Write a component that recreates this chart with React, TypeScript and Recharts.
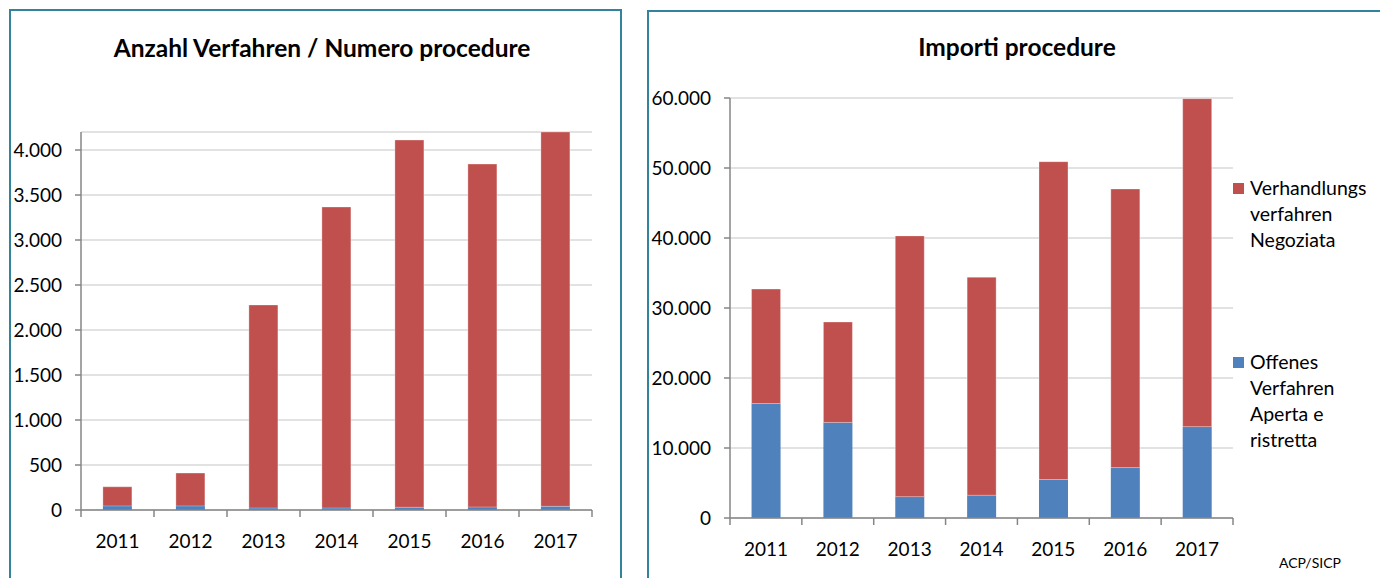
import { BarChart, Bar, XAxis, YAxis, CartesianGrid, Legend } from 'recharts';

const YEARS = ['2011', '2012', '2013', '2014', '2015', '2016', '2017'];

// Anzahl Verfahren / Numero procedure
const COUNT_OPEN = [45, 45, 22, 22, 30, 33, 41];
const COUNT_NEGOTIATED = [213, 365, 2256, 3345, 4081, 3811, 4159];
const COUNT_TICKS = [0, 500, 1000, 1500, 2000, 2500, 3000, 3500, 4000];

// Importi procedure
const AMOUNT_OPEN = [16350, 13650, 3050, 3250, 5500, 7200, 13050];
const AMOUNT_NEGOTIATED = [16350, 14350, 37250, 31150, 45400, 39800, 46850];
const AMOUNT_TICKS = [0, 10000, 20000, 30000, 40000, 50000, 60000];

const NAME_OPEN = ['Offenes', 'Verfahren', 'Aperta e', 'ristretta'];
const NAME_NEGOTIATED = ['Verhandlungs', 'verfahren', 'Negoziata'];

const RED = '#C0504D';
const BLUE = '#4F81BD';
const AXIS = '#868686';
const GRID = '#D9D9D9';
const FRAME = '#31849B';
const FONT = 'Lato, "Open Sans", sans-serif';

const countData = YEARS.map((year, i) => ({ year, open: COUNT_OPEN[i], negotiated: COUNT_NEGOTIATED[i] }));
const amountData = YEARS.map((year, i) => ({ year, open: AMOUNT_OPEN[i], negotiated: AMOUNT_NEGOTIATED[i] }));

const fmt = (v: number) => String(v).replace(/\B(?=(\d{3})+(?!\d))/g, '.');

// Excel-style category axis: tick marks sit between the categories
const makeXTick = (band: number) => (props: any) => {
  const { x, y, payload, index } = props;
  return (
    <g>
      <line x1={x - band / 2} x2={x - band / 2} y1={y} y2={y + 7} stroke={AXIS} strokeWidth={1.5} />
      {index === YEARS.length - 1 && (
        <line x1={x + band / 2} x2={x + band / 2} y1={y} y2={y + 7} stroke={AXIS} strokeWidth={1.5} />
      )}
      <text x={x} y={y + 30} textAnchor="middle" dominantBaseline="central" fontSize={19} fontFamily={FONT} fill="#000">
        {payload.value}
      </text>
    </g>
  );
};

const renderLegend = (props: any) => {
  const items = [...(props.payload || [])].reverse();
  return (
    <div style={{ fontFamily: FONT, fontSize: 19.5, lineHeight: '26px', color: '#000' }}>
      {items.map((item: any, i: number) => (
        <div key={item.value} style={{ position: 'relative', paddingLeft: 17, marginTop: i === 0 ? 0 : 96 }}>
          <span style={{ position: 'absolute', left: 0, top: 8, width: 11, height: 11, background: item.color }} />
          {String(item.value).split('|').map((line) => (
            <div key={line}>{line}</div>
          ))}
        </div>
      ))}
    </div>
  );
};

const yTick = { fontSize: 19, fontFamily: FONT, fill: '#000' };

export default function App() {
  return (
    <div style={{ position: 'absolute', left: 0, top: 0, width: 1380, height: 578, overflow: 'hidden', background: '#fff' }}>
      <div style={{ position: 'absolute', left: 9, top: 9, width: 609, height: 620, border: `2px solid ${FRAME}` }} />
      <div style={{ position: 'absolute', left: 647, top: 10, width: 800, height: 620, border: `2px solid ${FRAME}` }} />

      <div style={{ position: 'absolute', left: 22, top: 33, width: 600, textAlign: 'center', fontFamily: FONT, fontWeight: 700, fontSize: 24.5, lineHeight: '30px' }}>
        Anzahl Verfahren / Numero procedure
      </div>
      <div style={{ position: 'absolute', left: 717, top: 32, width: 600, textAlign: 'center', fontFamily: FONT, fontWeight: 700, fontSize: 24.5, lineHeight: '30px' }}>
        Importi procedure
      </div>
      <div style={{ position: 'absolute', left: 1279, top: 554, fontFamily: FONT, fontSize: 14, lineHeight: '18px' }}>ACP/SICP</div>

      <div style={{ position: 'absolute', left: 0, top: 0 }}>
        <BarChart width={640} height={578} data={countData} margin={{ top: 132, right: 48, bottom: 38, left: 0 }} barCategoryGap="30%">
          <CartesianGrid vertical={false} stroke={GRID} strokeWidth={1.5} />
          <XAxis dataKey="year" height={30} axisLine={{ stroke: AXIS, strokeWidth: 1.5 }} tickLine={false} tickSize={0} tickMargin={0} tick={makeXTick(511 / YEARS.length)} />
          <YAxis width={81} domain={[0, 4200]} ticks={COUNT_TICKS} tickFormatter={fmt} axisLine={{ stroke: AXIS, strokeWidth: 1.5 }} tickLine={{ stroke: AXIS, strokeWidth: 1.5 }} tickSize={6} tickMargin={13} tick={yTick} />
          <Bar dataKey="open" stackId="a" fill={BLUE} isAnimationActive={false} />
          <Bar dataKey="negotiated" stackId="a" fill={RED} stroke="#ffffff" strokeOpacity={0.3} isAnimationActive={false} />
        </BarChart>
      </div>

      <div style={{ position: 'absolute', left: 640, top: 0 }}>
        <BarChart width={740} height={578} data={amountData} margin={{ top: 98, right: 147, bottom: 30, left: 0 }} barCategoryGap="30%">
          <CartesianGrid vertical={false} stroke={GRID} strokeWidth={1.5} />
          <XAxis dataKey="year" height={30} axisLine={{ stroke: AXIS, strokeWidth: 1.5 }} tickLine={false} tickSize={0} tickMargin={0} tick={makeXTick(503 / YEARS.length)} />
          <YAxis width={90} domain={[0, 60000]} ticks={AMOUNT_TICKS} tickFormatter={fmt} axisLine={{ stroke: AXIS, strokeWidth: 1.5 }} tickLine={{ stroke: AXIS, strokeWidth: 1.5 }} tickSize={6} tickMargin={13} tick={yTick} />
          <Legend layout="horizontal" verticalAlign="middle" align="center" content={renderLegend} wrapperStyle={{ left: 593, top: 175, width: 150 }} />
          <Bar dataKey="open" name={NAME_OPEN.join('|')} stackId="a" fill={BLUE} isAnimationActive={false} />
          <Bar dataKey="negotiated" name={NAME_NEGOTIATED.join('|')} stackId="a" fill={RED} stroke="#ffffff" strokeOpacity={0.3} isAnimationActive={false} />
        </BarChart>
      </div>
    </div>
  );
}
